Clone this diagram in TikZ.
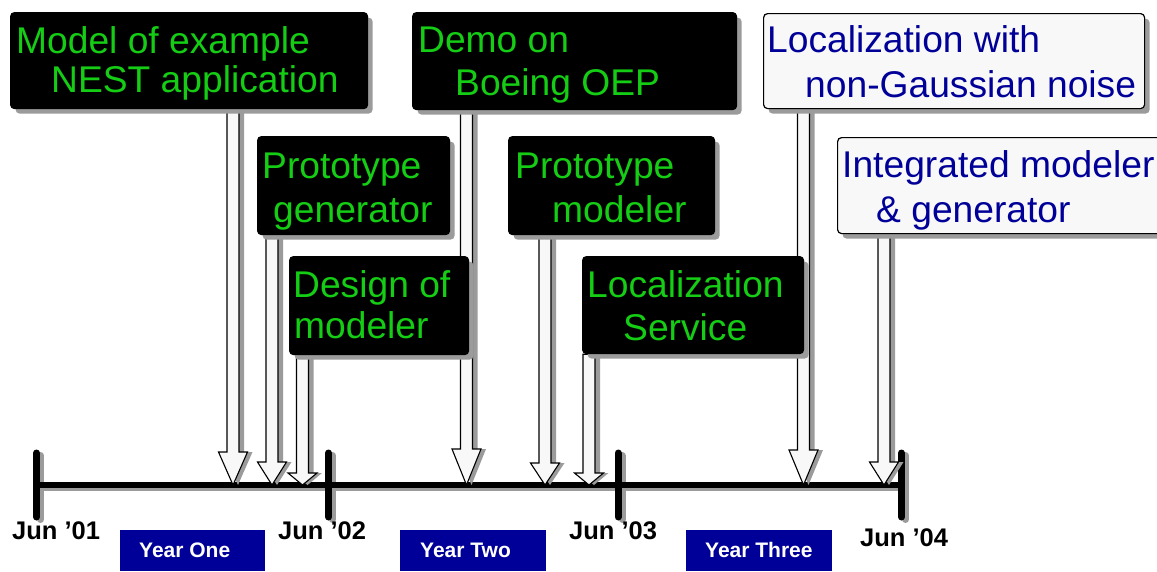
\documentclass[tikz,border=0pt]{standalone}
\usepackage{fontspec}
\setmainfont{Liberation Sans}
\usetikzlibrary{shadows,calc}

\definecolor{shadowgray}{RGB}{155,155,155}
\definecolor{labelgreen}{RGB}{20,205,20}
\definecolor{navy}{RGB}{0,0,153}
\definecolor{paper}{RGB}{248,248,248}

\pgfdeclarelayer{back}
\pgfsetlayers{back,main}

\tikzset{
  box/.style={rectangle, rounded corners=4pt, inner sep=0pt, anchor=north west,
    line width=1.2pt,
    general shadow={fill=shadowgray, shadow xshift=5pt, shadow yshift=-5pt}},
  darkbox/.style={box, fill=black, draw=black},
  lightbox/.style={box, fill=paper, draw=black},
  boxtext/.style={anchor=base west, inner sep=0pt, font=\fontsize{37.2}{42}\selectfont},
  greentext/.style={boxtext, text=labelgreen},
  bluetext/.style={boxtext, text=navy},
  arrowbody/.style={fill=paper, draw=black, line width=1.1pt, line join=miter},
  arrowshade/.style={fill=shadowgray, shift={(5pt,-4pt)}},
  axisline/.style={line width=6pt, draw=black},
  axisshade/.style={line width=6pt, draw=shadowgray},
  tickline/.style={line width=7pt, line cap=round, draw=black},
  tickshade/.style={line width=7pt, line cap=round, draw=shadowgray},
  datetext/.style={anchor=base west, inner sep=0pt, font=\fontsize{25.5}{28}\selectfont\bfseries},
  yearbox/.style={rectangle, fill=navy, inner sep=0pt, anchor=north west,
    minimum height=41pt},
  yeartext/.style={anchor=base west, inner sep=0pt, text=white,
    font=\fontsize{21}{24}\selectfont\bfseries},
}

% event box: style, name, left, top, right, bottom (pixels, y downwards)
\newcommand\eventbox[6]{%
  \node[#1, minimum width={#5pt-#3pt}, minimum height={#6pt-#4pt}] (#2) at (#3,#4) {};}

% block arrow from the bottom of a box down to the time axis:
% box name, axis coordinate, centre x, head length
\newcommand\timearrow[4]{%
  \path[arrowshade] let \p1=(#1.south), \p2=(#2) in
    (#3pt-6pt,\y1) -- (#3pt+6pt,\y1) -- (#3pt+6pt,\y2+#4pt) -- (#3pt+14.5pt,\y2+#4pt)
    -- (#3pt,\y2) -- (#3pt-14.5pt,\y2+#4pt) -- (#3pt-6pt,\y2+#4pt) -- cycle;
  \path[arrowbody] let \p1=(#1.south), \p2=(#2) in
    (#3pt-6pt,\y1) -- (#3pt+6pt,\y1) -- (#3pt+6pt,\y2+#4pt) -- (#3pt+14.5pt,\y2+#4pt)
    -- (#3pt,\y2) -- (#3pt-14.5pt,\y2+#4pt) -- (#3pt-6pt,\y2+#4pt) -- cycle;}

\begin{document}
\begin{tikzpicture}[x=1pt, y=-1pt]
\useasboundingbox (0,0) rectangle (1157,571);

% milestone boxes
\eventbox{darkbox}{b1}{10}{12}{367}{108}
\eventbox{darkbox}{b2}{257}{136}{449}{234}
\eventbox{darkbox}{b3}{289}{256}{468}{354}
\eventbox{darkbox}{b4}{412}{12}{736}{109}
\eventbox{darkbox}{b5}{508}{136}{714}{234}
\eventbox{darkbox}{b6}{582}{256}{803}{353}
\eventbox{lightbox}{b7}{763}{13}{1144}{108}
\eventbox{lightbox}{b8}{837}{137}{1164}{233}

% box texts
\node[greentext] (b1a) at (16,53) {Model of example};
\node[greentext] (b1b) at (51,92) {NEST application};
\node[greentext] (b2a) at (262,178) {Prototype};
\node[greentext] (b2b) at (273,222) {generator};
\node[greentext] (b3a) at (293,297) {Design of};
\node[greentext] (b3b) at (294,338) {modeler};
\node[greentext] (b4a) at (418,52) {Demo on};
\node[greentext] (b4b) at (455,95) {Boeing OEP};
\node[greentext] (b5a) at (515,178) {Prototype};
\node[greentext] (b5b) at (552,222) {modeler};
\node[greentext] (b6a) at (587,297) {Localization};
\node[greentext] (b6b) at (623,340) {Service};
\node[bluetext] (b7a) at (767,52) {Localization with};
\node[bluetext] (b7b) at (805,97) {non-Gaussian noise};
\node[bluetext] (b8a) at (842,177) {Integrated modeler};
\node[bluetext] (b8b) at (876,222) {\& generator};

% time axis with yearly ticks
\coordinate (j01) at (36.5,485);
\coordinate (j02) at (328.5,485);
\coordinate (j03) at (618,485);
\coordinate (j04) at (901.5,485);

\begin{pgfonlayer}{back}
  \draw[axisshade] ([shift={(0,2.5)}]j01) -- ([shift={(0,2.5)}]j04);
  \foreach \t in {j01,j02,j03,j04}
    \draw[tickshade] ([shift={(4,-29.5)}]\t) -- ([shift={(4,34.5)}]\t);
  \draw[axisline] (j01) -- (j04);
  \foreach \t in {j01,j02,j03,j04}
    \draw[tickline] ([shift={(0,-32)}]\t) -- ([shift={(0,32)}]\t);

  \timearrow{b1}{j01}{233}{33}
  \timearrow{b2}{j01}{272}{23}
  \timearrow{b3}{j01}{302.5}{12}
  \timearrow{b4}{j01}{466.5}{36}
  \timearrow{b5}{j01}{545}{22}
  \timearrow{b6}{j01}{589}{12}
  \timearrow{b7}{j01}{803.5}{35}
  \timearrow{b8}{j01}{884}{23}
\end{pgfonlayer}

% dates
\node[datetext] (d01) at (12,539) {Jun ’01};
\node[datetext] (d02) at (278,539) {Jun ’02};
\node[datetext] (d03) at (569,539) {Jun ’03};
\node[datetext] (d04) at (860,546) {Jun ’04};

% year bands
\node[yearbox, minimum width=145pt] (y1) at (120,530) {};
\node[yearbox, minimum width=146pt] (y2) at (400,530) {};
\node[yearbox, minimum width=146pt] (y3) at (686,530) {};
\node[yeartext] (y1t) at (139,557) {Year One};
\node[yeartext] (y2t) at (420,557) {Year Two};
\node[yeartext] (y3t) at (705,557) {Year Three};
\end{tikzpicture}
\end{document}
